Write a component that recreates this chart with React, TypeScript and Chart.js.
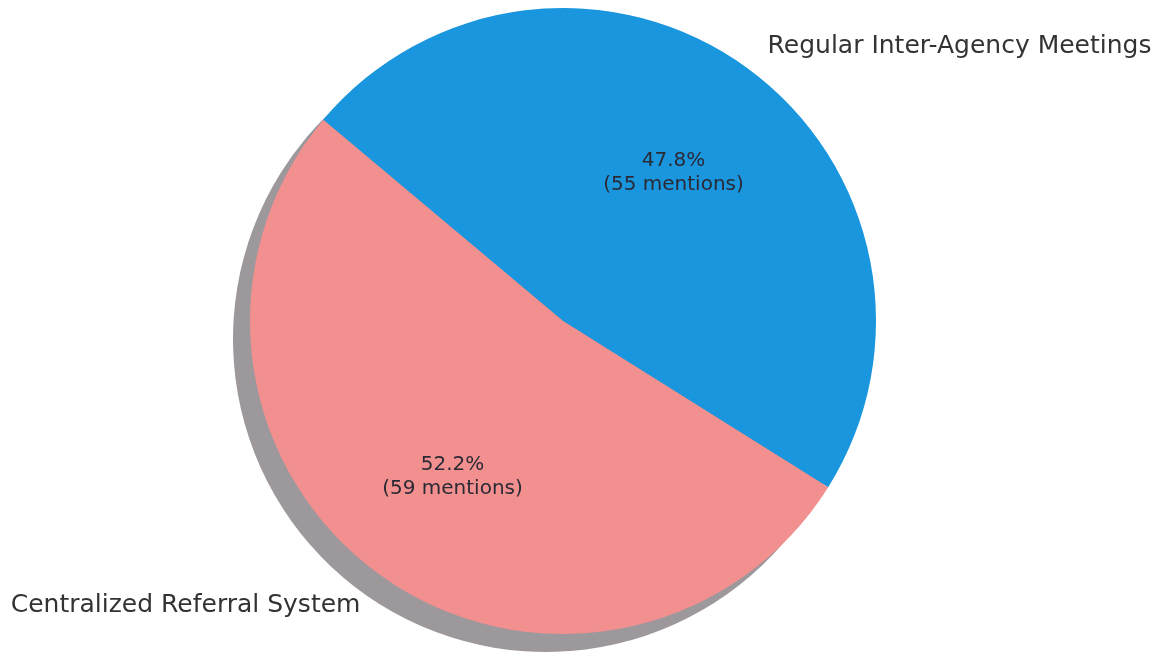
import React, { useEffect, useRef } from "react";
import { Chart, registerables } from "chart.js";

Chart.register(...registerables);

const categories = ["Regular Inter-Agency Meetings", "Centralized Referral System"];
const mentions = [55, 59];
const percentages = [47.8, 52.2];
const sliceColors = ["#1996de", "#f28f8f"];
const shadowColors = ["rgba(10,45,67,0.5)", "rgba(60,50,55,0.5)"];

const FONT = '"DejaVu Sans", sans-serif';

const shadowPlugin = {
  id: "pieShadow",
  beforeDatasetsDraw(chart: any) {
    const ctx = chart.ctx;
    const meta = chart.getDatasetMeta(0);
    ctx.save();
    meta.data.forEach((arc: any, i: number) => {
      const { x, y, startAngle, endAngle, outerRadius } = arc.getProps(
        ["x", "y", "startAngle", "endAngle", "outerRadius"],
        true
      );
      ctx.beginPath();
      ctx.moveTo(x - 17, y + 18);
      ctx.arc(x - 17, y + 18, outerRadius, startAngle, endAngle);
      ctx.closePath();
      ctx.fillStyle = shadowColors[i];
      ctx.fill();
    });
    ctx.restore();
  },
};

const labelPlugin = {
  id: "pieLabels",
  afterDatasetsDraw(chart: any) {
    const ctx = chart.ctx;
    const meta = chart.getDatasetMeta(0);
    ctx.save();
    meta.data.forEach((arc: any, i: number) => {
      const { x, y, startAngle, endAngle, outerRadius } = arc.getProps(
        ["x", "y", "startAngle", "endAngle", "outerRadius"],
        true
      );
      const mid = (startAngle + endAngle) / 2;
      const c = Math.cos(mid);
      const s = Math.sin(mid);
      // inner percentage labels
      const px = x + c * outerRadius * 0.6;
      const py = y + s * outerRadius * 0.6 + 4;
      const lines = [percentages[i].toFixed(1) + "%", "(" + mentions[i] + " mentions)"];
      ctx.font = "20px " + FONT;
      ctx.fillStyle = "#2a2a35";
      ctx.textAlign = "center";
      ctx.textBaseline = "middle";
      const lh = 24;
      lines.forEach((t, k) => {
        ctx.fillText(t, px, py + (k - (lines.length - 1) / 2) * lh);
      });
      // outer category labels
      const lx = x + c * outerRadius * 1.1;
      const ly = y + s * outerRadius * 1.1;
      ctx.font = "25px " + FONT;
      ctx.fillStyle = "#333333";
      ctx.textAlign = c >= 0 ? "left" : "right";
      ctx.textBaseline = "middle";
      ctx.fillText(categories[i], lx + (c >= 0 ? 2 : 0), ly + (s > 0 ? 6 : 4));
    });
    ctx.restore();
  },
};

export default function App() {
  const ref = useRef<HTMLCanvasElement | null>(null);
  useEffect(() => {
    if (!ref.current) return;
    const chart = new Chart(ref.current, {
      type: "pie",
      data: {
        labels: categories,
        datasets: [
          {
            data: percentages,
            backgroundColor: sliceColors,
            borderWidth: 0,
            hoverOffset: 0,
          },
        ],
      },
      options: {
        responsive: false,
        animation: false,
        devicePixelRatio: 1,
        rotation: -50,
        layout: { padding: { left: 250, top: 8, right: 288, bottom: 21 } },
        plugins: {
          legend: { display: false },
          tooltip: { enabled: false },
        },
      },
      plugins: [shadowPlugin, labelPlugin],
    });
    return () => chart.destroy();
  }, []);
  return (
    <div style={{ position: "absolute", left: 0, top: 0, width: 1164, height: 655, background: "#fff" }}>
      <canvas ref={ref} width={1164} height={655} style={{ display: "block" }} />
    </div>
  );
}
